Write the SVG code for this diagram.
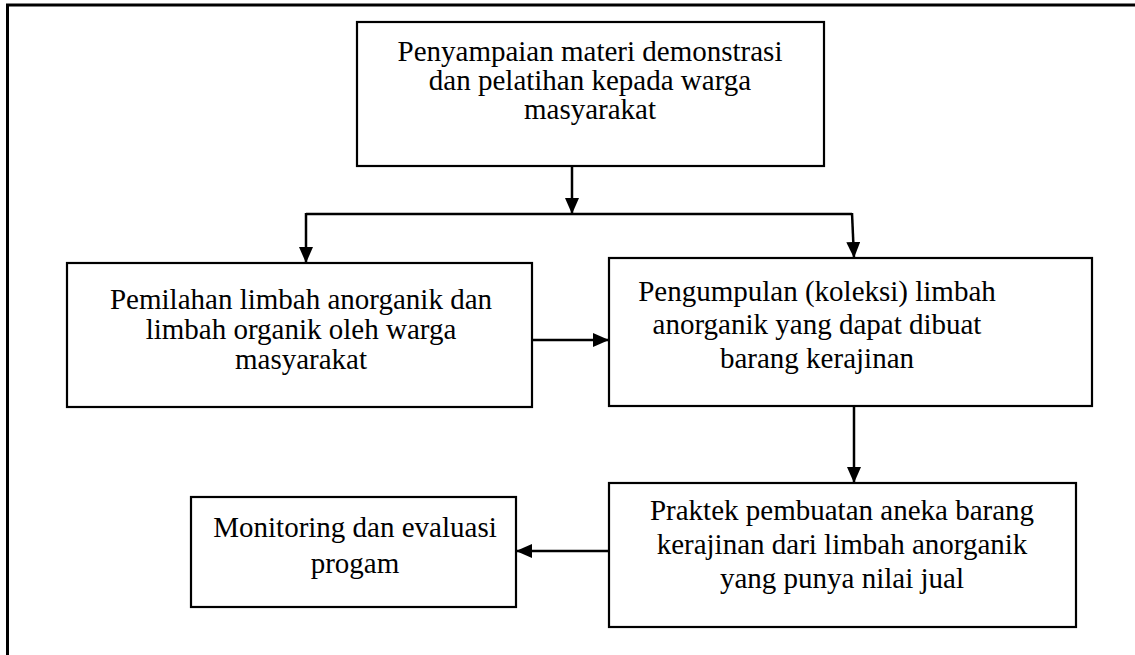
<svg xmlns="http://www.w3.org/2000/svg" width="1135" height="655" viewBox="0 0 1135 655">
<style>
.box{fill:#fff;stroke:#000;stroke-width:2.2}
.t{font-family:"Liberation Serif","Times New Roman",serif;font-size:29px;fill:#000;text-anchor:middle}
.c{fill:none;stroke:#000;stroke-width:2.5}
</style>
<defs>
<marker id="ah" viewBox="0 0 16 14" refX="16" refY="7" markerWidth="16" markerHeight="14" markerUnits="userSpaceOnUse" orient="auto">
<path d="M0,0 L16,7 L0,14 z" fill="#000"/>
</marker>
</defs>
<rect width="1135" height="655" fill="#fff"/>
<path d="M7.5,655 V5 H1135" fill="none" stroke="#000" stroke-width="3"/>
<g id="n1">
<rect class="box" x="357" y="22" width="467" height="144"/>
<text class="t" x="590" y="61">Penyampaian materi demonstrasi</text>
<text class="t" x="590" y="90">dan pelatihan kepada warga</text>
<text class="t" x="590" y="119">masyarakat</text>
</g>
<g id="n2">
<rect class="box" x="67" y="263" width="465" height="144"/>
<text class="t" x="301" y="309">Pemilahan limbah anorganik dan</text>
<text class="t" x="301" y="339">limbah organik oleh warga</text>
<text class="t" x="301" y="369">masyarakat</text>
</g>
<g id="n3">
<rect class="box" x="609" y="258" width="483" height="148"/>
<text class="t" x="817" y="301">Pengumpulan (koleksi) limbah</text>
<text class="t" x="817" y="334">anorganik yang dapat dibuat</text>
<text class="t" x="817" y="368">barang kerajinan</text>
</g>
<g id="n4">
<rect class="box" x="609" y="483" width="467" height="144"/>
<text class="t" x="842" y="520">Praktek pembuatan aneka barang</text>
<text class="t" x="842" y="554">kerajinan dari limbah anorganik</text>
<text class="t" x="842" y="588">yang punya nilai jual</text>
</g>
<g id="n5">
<rect class="box" x="191" y="497" width="325" height="110"/>
<text class="t" x="355" y="537">Monitoring dan evaluasi</text>
<text class="t" x="355" y="573">progam</text>
</g>
<g id="connectors">
<line class="c" x1="572" y1="166" x2="572" y2="214" marker-end="url(#ah)"/>
<polyline class="c" points="306,214 852,214"/>
<line class="c" x1="306" y1="213" x2="306" y2="263" marker-end="url(#ah)"/>
<line class="c" x1="852" y1="213" x2="854" y2="258" marker-end="url(#ah)"/>
<line class="c" x1="532" y1="340" x2="609" y2="340" marker-end="url(#ah)"/>
<line class="c" x1="854" y1="406" x2="854" y2="483" marker-end="url(#ah)"/>
<line class="c" x1="609" y1="551" x2="516" y2="551" marker-end="url(#ah)"/>
</g>
</svg>
